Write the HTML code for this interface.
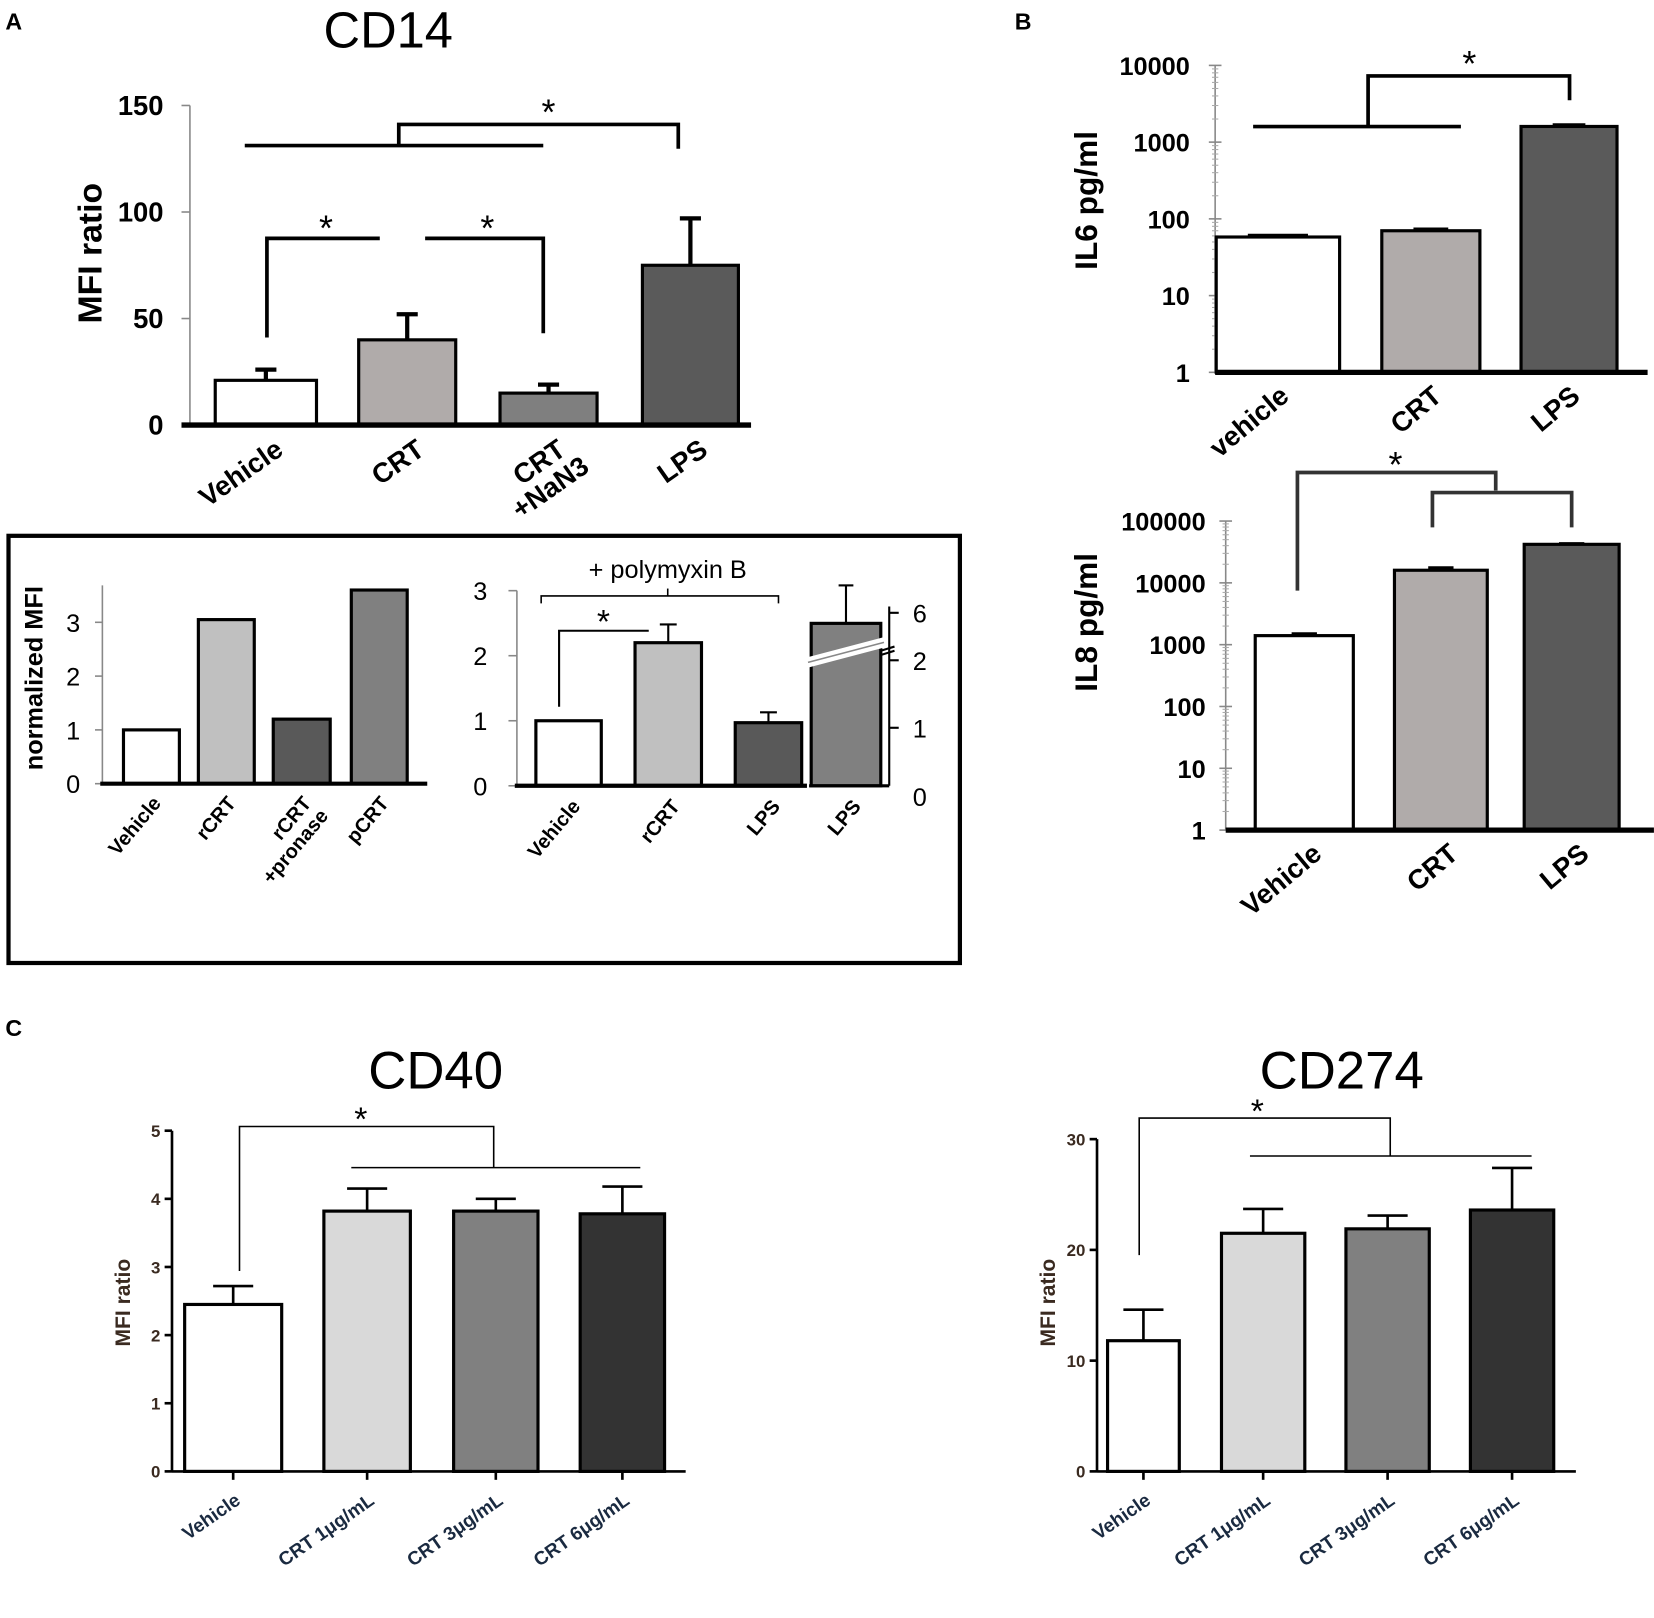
<!DOCTYPE html>
<html><head><meta charset="utf-8"><style>
html,body{margin:0;padding:0;background:#fff}
svg{display:block}
text{font-family:"Liberation Sans",sans-serif}
</style></head><body>
<svg id="fig" width="1654" height="1618" viewBox="0 0 1568 1534" xmlns="http://www.w3.org/2000/svg"></svg>
<script>
// ---- data ----
const cd14Cats=["Vehicle","CRT","CRT\n+NaN3","LPS"];
const cd14Vals=[21,40,15,75];
const cd14Err=[26,52,19,97];
const cd14Ticks=[0,50,100,150];
const nmCats=["Vehicle","rCRT","rCRT\n+pronase","pCRT"];
const nmVals=[1.0,3.05,1.2,3.6];
const nmTicks=[0,1,2,3];
const pmCats=["Vehicle","rCRT","LPS"];
const pmVals=[1.0,2.2,0.97];
const pmErr=[null,2.48,1.13];
const pmTicks=[0,1,2,3];
const il6Cats=["vehicle","CRT","LPS"];
const il6Vals=[58,70,1600];
const il6Ticks=[1,10,100,1000,10000];
const il8Cats=["Vehicle","CRT","LPS"];
const il8Vals=[1400,16000,42000];
const il8Err=[1500,17500,43000];
const il8Ticks=[1,10,100,1000,10000,100000];
const cd40Cats=["Vehicle","CRT 1μg/mL","CRT 3μg/mL","CRT 6μg/mL"];
const cd40Vals=[2.45,3.82,3.82,3.78];
const cd40Err=[2.72,4.15,4.0,4.18];
const cd40Ticks=[0,1,2,3,4,5];
const cd274Vals=[11.8,21.5,21.9,23.6];
const cd274Err=[14.6,23.7,23.1,27.4];
const cd274Ticks=[0,10,20,30];

const NS="http://www.w3.org/2000/svg";
const svg=document.getElementById('fig');
function el(tag,attrs,parent){const e=document.createElementNS(NS,tag);for(const k in attrs)e.setAttribute(k,attrs[k]);(parent||svg).appendChild(e);return e;}
function line(x1,y1,x2,y2,w,c,name){const e=el('line',{x1,y1,x2,y2,stroke:c||'#000','stroke-width':w||2});

return e;}
function poly(pts,w,c,name){const e=el('polyline',{points:pts.map(p=>p.join(',')).join(' '),fill:'none',stroke:c||'#000','stroke-width':w||3});

return e;}
function txt(x,y,s,size,opt,name){opt=opt||{};const e=el('text',{x,y,'font-size':size,fill:opt.fill||'#000','font-weight':opt.bold?'bold':'normal','text-anchor':opt.anchor||'start'});
if(opt.rot!==undefined)e.setAttribute('transform',`rotate(${opt.rot} ${x} ${y})`);
const lines=s.split('\n');
if(lines.length==1)e.textContent=s;else lines.forEach((l,i)=>{const t=el('tspan',{x,dy:i?size:0},e);t.textContent=l;});

return e;}
function bar(x0,x1,ytop,ybase,fill,w,name){const e=el('rect',{x:x0,y:ytop,width:x1-x0,height:ybase-ytop,fill,stroke:'#000','stroke-width':w||3});

return e;}
function errbar(xc,ytop,yval,cap,w,name){line(xc,yval,xc,ytop,w,'#000',name);line(xc-cap,ytop,xc+cap,ytop,w,'#000',name+'-cap');}
const lin=(y0,y1,v0,v1)=>v=>y0+(v-v0)*(y1-y0)/(v1-v0);
const logs=(y0,y1,d)=>v=>y0+Math.log10(v)*(y1-y0)/d;

// panel letters
txt(5,28,"A",22,{bold:1},'panel-a-label');
txt(962,28,"B",22,{bold:1},'panel-b-label');
txt(5,982,"C",22,{bold:1},'panel-c-label');

// ---- CD14 ----
{const y=lin(403,100,0,150);
txt(368,45,"CD14",48,{anchor:'middle'},'cd14-title');
line(180,100,180,403,1.5,'#888','cd14-y-axis');
cd14Ticks.forEach(t=>{line(172,y(t),180,y(t),1.5,'#888','cd14-tick');txt(155,y(t)+9,String(t),26,{bold:1,anchor:'end'},'cd14-tick-label');});
txt(96,240,"MFI ratio",32,{bold:1,anchor:'middle',rot:-90},'cd14-y-title');
const xs=[[204,300],[340,432],[474,566],[609,700]];const fills=['#fff','#b0abaa','#7f7f7f','#5a5a5a'];
cd14Vals.forEach((v,i)=>{const xc=(xs[i][0]+xs[i][1])/2;errbar(xc,y(cd14Err[i]),y(v),10,4,'cd14-error-'+i);bar(xs[i][0],xs[i][1],y(v),403,fills[i],3,'cd14-bar-'+i);
const ls=cd14Cats[i].split('\n');
ls.forEach((l,j)=>txt(xc+18+j*22,430+j*16,l,26,{bold:1,anchor:'end',rot:-35},'cd14-x-label'));});
line(172,403,712,403,5,'#000','cd14-x-axis');
line(232,138,515,138,3.5,'#000','cd14-sig-line');
poly([[378,138],[378,118],[643,118],[643,141]],3.5,'#000','cd14-sig-bracket');
txt(520,118,"*",34,{anchor:'middle'},'cd14-star');
poly([[253,320],[253,226],[360,226]],3.5,'#000','cd14-bracket-1');
txt(309,228,"*",34,{anchor:'middle'},'cd14-star');
poly([[403,226],[515,226],[515,316]],3.5,'#000','cd14-bracket-2');
txt(462,228,"*",34,{anchor:'middle'},'cd14-star');
}
// inset box
{const r=el('rect',{x:8,y:508,width:902,height:405,fill:'none',stroke:'#000','stroke-width':4});}
// normalized MFI
{const y=lin(743,590,0,3);
line(97,555,97,743,1.5,'#888','nm-y-axis');
nmTicks.forEach(t=>{line(90,y(t),97,y(t),1.5,'#888','nm-tick');txt(76,y(t)+9,String(t),24,{anchor:'end'},'nm-tick-label');});
txt(40,643,"normalized MFI",24,{bold:1,anchor:'middle',rot:-90},'nm-y-title');
const xs=[[117,170],[188,241],[259,313],[333,386]];const fills=['#fff','#c0c0c0','#595959','#808080'];
nmVals.forEach((v,i)=>{bar(xs[i][0],xs[i][1],y(v),743,fills[i],3,'nm-bar-'+i);const xc=(xs[i][0]+xs[i][1])/2;
nmCats[i].split('\n').forEach((l,j)=>txt(xc+10+j*16,762+j*12,l,19,{bold:1,anchor:'end',rot:-50},'nm-x-label'));});
line(95,743,405,743,4,'#000','nm-x-axis');
}
// polymyxin
{const y=lin(745,560,0,3);
line(490,560,490,745,1.5,'#888','pm-y-axis');
pmTicks.forEach(t=>{line(482,y(t),490,y(t),1.5,'#888','pm-tick');txt(462,y(t)+9,String(t),24,{anchor:'end'},'pm-tick-label');});
const xs=[[508,570],[602,665],[697,760]];const fills=['#fff','#c0c0c0','#595959'];
pmVals.forEach((v,i)=>{const xc=(xs[i][0]+xs[i][1])/2;if(pmErr[i])errbar(xc,y(pmErr[i]),y(v),8,2,'pm-error-'+i);bar(xs[i][0],xs[i][1],y(v),745,fills[i],3,'pm-bar-'+i);
txt(xc+12,765,pmCats[i],19,{bold:1,anchor:'end',rot:-50},'pm-x-label');});
line(488,745,765,745,4,'#000','pm-x-axis');
// broken LPS bar
const yr=v=>v<=2?lin(755,626,0,2)(v):626+(v-2)*(581-626)/4;
line(802,555,802,591,2,'#000','pm-lps-error');line(795,555,809,555,2,'#000','pm-lps-error-cap');
bar(769,835,591,745,'#808080',3,'pm-bar-lps');
el('polygon',{points:'766,623 838,604 838,614 766,633',fill:'#fff'});
line(766,628,838,609,1.5,'#888','break-mark');
line(835,617,848,613,2,'#000','break-tick');line(835,621,848,617,2,'#000','break-tick');
line(843,575,843,745,2,'#000','pm-right-axis');line(767,745,843,745,3,'#000','pm-right-base');
[[0,755],[1,690],[2,626],[6,581]].forEach(([t,py])=>{if(t)line(843,py,852,py,2,'#000','pm-right-tick');txt(872,py+9,String(t),24,{anchor:'middle'},'pm-right-tick-label');});
txt(817,765,"LPS",19,{bold:1,anchor:'end',rot:-50},'pm-x-label');
txt(633,548,"+ polymyxin B",24,{anchor:'middle'},'pm-annotation');
poly([[513,572],[513,565],[738,565],[738,572]],1.5,'#000','pm-brace');line(633,565,633,558,1.5,'#000','pm-brace-tip');
poly([[530,670],[530,598],[615,598]],2,'#000','pm-bracket');
txt(572,600,"*",32,{anchor:'middle'},'pm-star');
}
// ---- IL6 ----
{const y=logs(353,62,4);
line(1152,62,1152,353,1.5,'#888','il6-y-axis');
il6Ticks.forEach((t,k)=>{txt(1128,y(t)+9,String(t),24,{bold:1,anchor:'end'},'il6-tick-label');line(1146,y(t),1158,y(t),1.5,'#888','il6-tick');
if(k<il6Ticks.length-1)for(let m=2;m<10;m++)line(1149,y(t*m),1155,y(t*m),1,'#aaa','il6-minor-tick');});
txt(1040,190,"IL6 pg/ml",30,{bold:1,anchor:'middle',rot:-90},'il6-y-title');
const xs=[[1153,1270],[1310,1403],[1442,1533]];const fills=['#fff','#b0abaa','#5a5a5a'];
il6Vals.forEach((v,i)=>{const xc=(xs[i][0]+xs[i][1])/2;line(xs[i][0]+30,y(v*1.05),xs[i][1]-30,y(v*1.05),3,'#000','il6-error');bar(xs[i][0],xs[i][1],y(v),353,fills[i],3,'il6-bar-'+i);
txt(xc+12,378,il6Cats[i],26,{bold:1,anchor:'end',rot:-40},'il6-x-label');});
line(1152,353,1562,353,5,'#000','il6-x-axis');
line(1188,120,1385,120,3.5,'#000','il6-sig-line');
poly([[1297,120],[1297,72],[1488,72],[1488,95]],3.5,'#000','il6-bracket');
txt(1393,72,"*",34,{anchor:'middle'},'il6-star');
}
// ---- IL8 ----
{const y=logs(787,494,5);
line(1162,494,1162,787,1.5,'#888','il8-y-axis');
il8Ticks.forEach((t,k)=>{txt(1143,y(t)+9,String(t),24,{bold:1,anchor:'end'},'il8-tick-label');line(1156,y(t),1168,y(t),1.5,'#888','il8-tick');
if(k<il8Ticks.length-1)for(let m=2;m<10;m++)line(1159,y(t*m),1165,y(t*m),1,'#aaa','il8-minor-tick');});
txt(1040,590,"IL8 pg/ml",30,{bold:1,anchor:'middle',rot:-90},'il8-y-title');
const xs=[[1190,1283],[1322,1410],[1445,1535]];const fills=['#fff','#b0abaa','#5a5a5a'];
il8Vals.forEach((v,i)=>{const xc=(xs[i][0]+xs[i][1])/2;line(xc-12,y(il8Err[i]),xc+12,y(il8Err[i]),3,'#000','il8-error');bar(xs[i][0],xs[i][1],y(v),787,fills[i],3,'il8-bar-'+i);
txt(xc+18,812,il8Cats[i],26,{bold:1,anchor:'end',rot:-40},'il8-x-label');});
line(1162,787,1568,787,5,'#000','il8-x-axis');
poly([[1230,560],[1230,448],[1418,448],[1418,465]],3.5,'#333','il8-bracket-1');
poly([[1358,500],[1358,467],[1490,467],[1490,500]],3.5,'#333','il8-bracket-2');
txt(1323,452,"*",34,{anchor:'middle'},'il8-star');
}
// ---- panel C helper ----
function cpanel(pre,title,tx,ax,x1,vals,errs,ticks,ymax,ytop,xs,sig){
const y=lin(1395,ytop,0,ymax);
txt(tx,1032,title,50,{anchor:'middle'},pre+'-title');
line(ax,ytop,ax,1395,2.5,'#000',pre+'-y-axis');
ticks.forEach(t=>{line(ax-7,y(t),ax,y(t),2.5,'#000',pre+'-tick');txt(ax-11,y(t)+6,String(t),16,{bold:1,anchor:'end',fill:'#3a2a20'},pre+'-tick-label');});
txt(ax-40,1235,"MFI ratio",20,{bold:1,anchor:'middle',rot:-90,fill:'#3a2a20'},pre+'-y-title');
const fills=['#fff','#d9d9d9','#808080','#333'];
vals.forEach((v,i)=>{const xc=(xs[i][0]+xs[i][1])/2;errbar(xc,y(errs[i]),y(v),19,2.5,pre+'-error-'+i);bar(xs[i][0],xs[i][1],y(v),1395,fills[i],3,pre+'-bar-'+i);
line(xc,1395,xc,1403,2.5,'#000',pre+'-xtick');
txt(xc+8,1425,cd40Cats[i],18,{bold:1,anchor:'end',rot:-35,fill:'#1a2a40'},pre+'-x-label');});
line(ax,1395,x1,1395,2.5,'#000',pre+'-x-axis');
poly(sig.a,1.5,'#000',pre+'-bracket');line(...sig.b,1.5,'#000',pre+'-sig-line');
txt(sig.s[0],sig.s[1],"*",32,{anchor:'middle'},pre+'-star');
}
cpanel('cd40',"CD40",413,163,650,cd40Vals,cd40Err,cd40Ticks,5,1072,[[175,267],[307,389],[430,510],[550,630]],
 {a:[[227,1205],[227,1068],[468,1068],[468,1107]],b:[333,1107,607,1107],s:[342,1072]});
cpanel('cd274',"CD274",1272,1040,1494,cd274Vals,cd274Err,cd274Ticks,30,1080,[[1050,1118],[1158,1237],[1276,1355],[1394,1473]],
 {a:[[1080,1190],[1080,1060],[1318,1060],[1318,1096]],b:[1185,1096,1452,1096],s:[1192,1064]});
</script>
</body></html>
